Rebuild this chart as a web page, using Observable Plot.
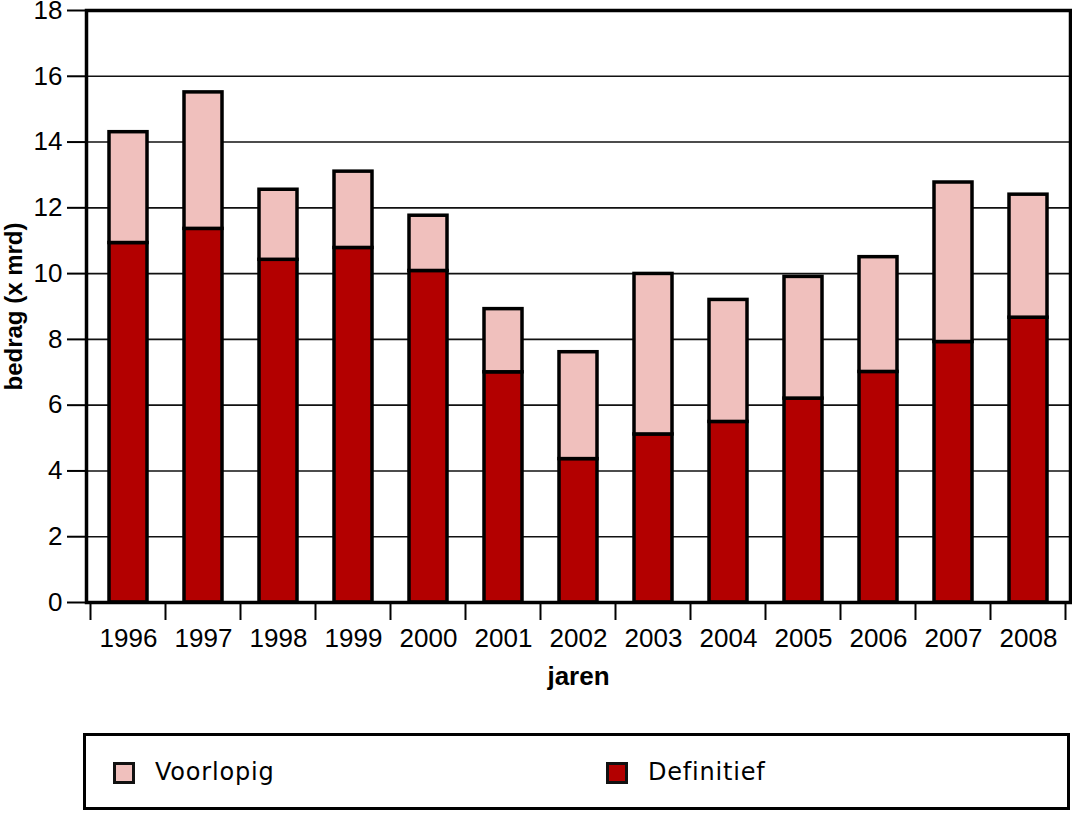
<!DOCTYPE html>
<html>
<head>
<meta charset="utf-8">
<script src="https://cdn.jsdelivr.net/npm/d3@7"></script>
<script src="https://cdn.jsdelivr.net/npm/@observablehq/plot@0.6"></script>
<style>
  html, body { margin: 0; padding: 0; background: #fff; }
  body { font-family: "Liberation Sans", Arial, sans-serif; width: 1072px; }
  #chart svg { display: block; }
  .legend { position: relative; margin-left: 83px; margin-top: 3px; width: 987px; height: 77px;
            box-sizing: border-box; border: 3px solid #000; }
  .sw { position: absolute; top: 26px; width: 22px; height: 22px; box-sizing: border-box; border: 3px solid #111; }
  .lt { position: absolute; top: 21px; font-family: "DejaVu Sans", "Liberation Sans", sans-serif;
        font-size: 24px; letter-spacing: 0.8px; line-height: 30px; color: #000; }
</style>
</head>
<body>
<div id="chart"></div>
<div class="legend" id="legend"></div>
<script>
const years = ["1996","1997","1998","1999","2000","2001","2002","2003","2004","2005","2006","2007","2008"];
const definitief = [10.93, 11.36, 10.42, 10.78, 10.08, 7.0, 4.36, 5.11, 5.49, 6.2, 7.01, 7.92, 8.66];
const totaal     = [14.3, 15.51, 12.55, 13.1, 11.76, 8.92, 7.61, 9.99, 9.2, 9.9, 10.5, 12.77, 12.4];
const series = ["Voorlopig", "Definitief"];
const colors = ["#f0c0bd", "#b30000"];
const yTicks = [0, 2, 4, 6, 8, 10, 12, 14, 16, 18];

const table = [];
years.forEach((y, i) => {
  table.push({year: y, serie: "Definitief", value: definitief[i]});
  table.push({year: y, serie: "Voorlopig", value: +(totaal[i] - definitief[i]).toFixed(2)});
});

const padInner = 0.49;

function bandTicks(index, scales, values, dims) {
  const x = scales.x, y = scales.y;
  const step = x(years[1]) - x(years[0]);
  const bw = typeof x.bandwidth === "function" ? x.bandwidth() : step * (1 - padInner);
  const y0 = y(0);
  const g = d3.create("svg:g").attr("stroke", "#000").attr("stroke-width", 2);
  const edges = years.map(v => x(v) + bw / 2 - step / 2);
  edges.push(x(years[years.length - 1]) + bw / 2 + step / 2);
  edges.forEach(e => g.append("line").attr("x1", e).attr("x2", e).attr("y1", y0).attr("y2", y0 + 18));
  return g.node();
}

const chart = Plot.plot({
  width: 1072,
  height: 730,
  marginLeft: 86,
  marginRight: 2,
  marginTop: 10,
  marginBottom: 128,
  style: {fontFamily: "'Liberation Sans', Arial, sans-serif", fontSize: "26px", color: "#000", background: "#fff"},
  x: {domain: years, paddingInner: padInner, paddingOuter: padInner / 2, label: null},
  y: {domain: [0, 18], label: null},
  color: {domain: series, range: colors},
  marks: [
    Plot.gridY(yTicks, {stroke: "#111", strokeOpacity: 1, strokeWidth: 1.6}),
    Plot.barY(table, Plot.stackY({
      x: "year", y: "value", fill: "serie",
      order: ["Definitief", "Voorlopig"],
      stroke: "#000", strokeWidth: 3.5
    })),
    Plot.frame({stroke: "#000", strokeWidth: 3.5}),
    Plot.axisY(yTicks, {tickSize: 19, tickPadding: 5, fontSize: 26, label: null, strokeWidth: 2}),
    Plot.axisX({tickSize: 0, tickPadding: 26, fontSize: 26, label: null}),
    bandTicks,
    Plot.text(["jaren"], {frameAnchor: "bottom", dy: 74, fontWeight: "bold", fontSize: 26, lineAnchor: "middle", textAnchor: "middle"}),
    Plot.text(["bedrag (x mrd)"], {frameAnchor: "left", dx: -72, rotate: -90, fontWeight: "bold", fontSize: 24, lineAnchor: "middle", textAnchor: "middle"})
  ]
});
document.getElementById("chart").appendChild(chart);

const legend = document.getElementById("legend");
const swLeft = [27, 520];
const txLeft = [69, 562];
series.forEach((s, i) => {
  const sw = document.createElement("div");
  sw.className = "sw";
  sw.style.left = swLeft[i] + "px";
  sw.style.background = colors[i];
  legend.appendChild(sw);
  const t = document.createElement("div");
  t.className = "lt";
  t.style.left = txLeft[i] + "px";
  t.textContent = s;
  legend.appendChild(t);
});
</script>
</body>
</html>
